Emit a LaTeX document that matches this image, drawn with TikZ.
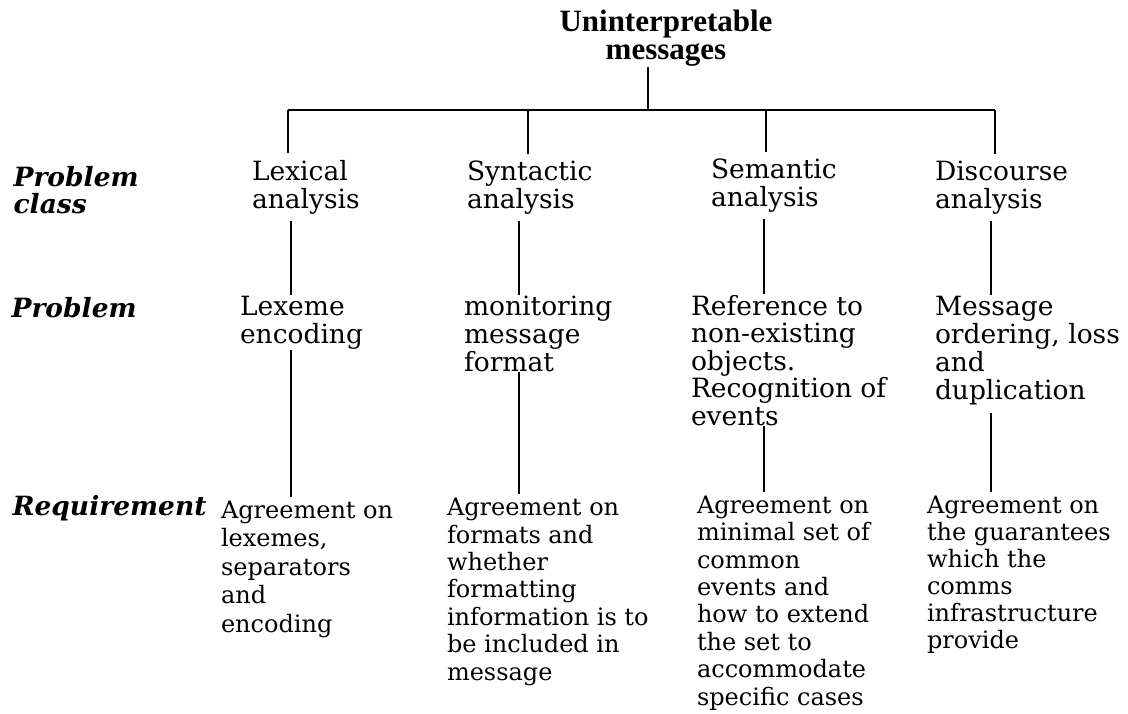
\documentclass[tikz,border=0pt]{standalone}
\usepackage{fontspec}
\setmainfont{DejaVu Serif}
\newfontfamily\titlefont{Liberation Serif}
\usetikzlibrary{calc}

\tikzset{
  hd/.style={anchor=base west, align=left, inner sep=0pt, outer sep=7pt,
    font=\fontsize{26.5}{27.8}\selectfont},
  pb/.style={hd, outer sep=1pt},
  req/.style={anchor=base west, align=left, inner sep=0pt, outer sep=4pt,
    font=\fontsize{24}{27.4}\selectfont},
  lbl/.style={anchor=base west, align=left, inner sep=0pt,
    font=\fontsize{26.5}{27}\selectfont\bfseries\itshape},
}

\begin{document}
\begin{tikzpicture}[x=1pt,y=-1pt,line width=1.2pt]
  \useasboundingbox (0,0) rectangle (1128,713);

  \node (top) at (666,59) [anchor=base, align=center, inner sep=0pt, outer sep=1pt,
    font=\titlefont\fontsize{31}{27.5}\selectfont\bfseries] {Uninterpretable\\messages};

  % row labels
  \node (pclass) at (13,213) [lbl] {Problem\\class};
  \node (prob) at (11,317) [lbl] {Problem};
  \node (preq) at (12,515) [lbl] {Requirement};

  % problem classes
  \node (lexA) at (245,208) [hd] {Lexical\\analysis};
  \node (synA) at (460,208) [hd] {Syntactic\\analysis};
  \node (semA) at (704,206) [hd] {Semantic\\analysis};
  \node (disA) at (928,208) [hd] {Discourse\\analysis};

  % problems
  \node (lexB) at (239,343) [pb] {Lexeme\\encoding};
  \node (synB) at (463,371) [pb] {monitoring\\message\\format};
  \node (semB) at (690,425) [pb, font=\fontsize{26.5}{27.5}\selectfont] {Reference to\\non-existing\\objects.\\Recognition of\\events};
  \node (disB) at (934,399) [pb] {Message\\ordering, loss\\and\\duplication};

  % requirements
  \node (lexC) at (217,632) [req, font=\fontsize{24}{28.5}\selectfont] {Agreement on\\lexemes,\\separators\\and\\encoding};
  \node (synC) at (443,680) [req] {Agreement on\\formats and\\whether\\formatting\\information is to\\be included in\\message};
  \node (semC) at (693,705) [req] {Agreement on\\minimal set of\\common\\events and\\how to extend\\the set to\\accommodate\\specific cases};
  \node (disC) at (923,648) [req, font=\fontsize{24}{27}\selectfont] {Agreement on\\the guarantees\\which the\\comms\\infrastructure\\provide};

  \coordinate (t0) at (648,110);
  \coordinate (t1) at (288,110);
  \coordinate (t2) at (528,110);
  \coordinate (t3) at (766,110);
  \coordinate (t4) at (995,110);
  \coordinate (c1) at (291,0);
  \coordinate (c2) at (519,0);
  \coordinate (c3) at (764,0);
  \coordinate (c4) at (991,0);

  \draw
  (t0 |- top.south) to (t0)
  (t1) to (t4)
  (t1) to (t1 |- lexA.north)
  (t2) to (t2 |- synA.north)
  (t3) to (t3 |- semA.north)
  (t4) to (t4 |- disA.north);

  \draw
  (c1 |- lexA.south) to (c1 |- lexB.north)
  (c2 |- synA.south) to (c2 |- synB.north)
  (c3 |- semA.south) to (c3 |- semB.north)
  (c4 |- disA.south) to (c4 |- disB.north);

  \draw[shorten <=7pt]
  (c1 |- lexB.south) to (c1 |- lexC.north)
  (c2 |- synB.south) to (c2 |- synC.north)
  (c3 |- semB.south) to (c3 |- semC.north)
  (c4 |- disB.south) to (c4 |- disC.north);
\end{tikzpicture}
\end{document}
